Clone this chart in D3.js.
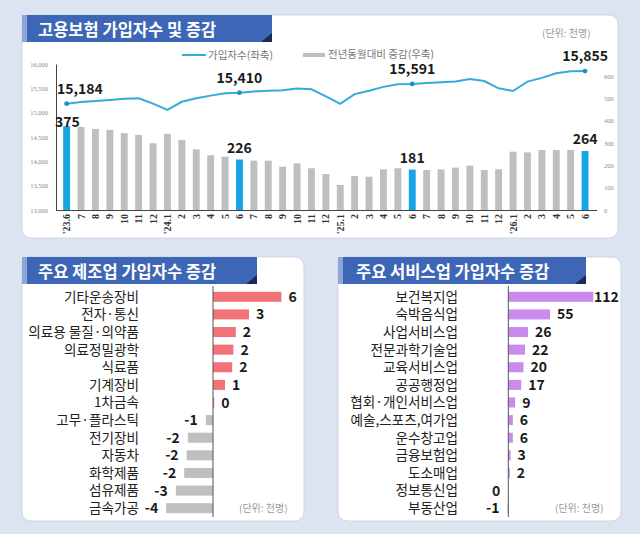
<!DOCTYPE html>
<html>
<head>
<meta charset="utf-8">
<script src="https://cdn.jsdelivr.net/npm/d3@7"></script>
<style>
  html, body { margin: 0; padding: 0; background: #dce4f2; }
  svg { display: block; }
</style>
</head>
<body>
<div id="chart"></div>
<script>
var WIDTH = 640;
var HEIGHT = 534;
var KR = "'Noto Sans CJK KR', 'Noto Sans', sans-serif";

// monthly series, '23.6 .. '26.6
var monthLabels = ["'23.6", "7", "8", "9", "10", "11", "12",
	"'24.1", "2", "3", "4", "5", "6", "7", "8", "9", "10", "11", "12",
	"'25.1", "2", "3", "4", "5", "6", "7", "8", "9", "10", "11", "12",
	"'26.1", "2", "3", "4", "5", "6"];
var subscribers = [15184, 15219, 15240, 15262, 15284, 15296, 15186,
	15057, 15224, 15296, 15350, 15398, 15410, 15437, 15450, 15462, 15496, 15480, 15334,
	15180, 15382, 15452, 15530, 15585, 15591, 15610, 15625, 15640, 15692, 15650, 15500,
	15445, 15638, 15715, 15810, 15850, 15855];
var yoyChange = [375, 372, 363, 359, 344, 336, 299,
	341, 314, 272, 245, 239, 226, 221, 221, 194, 209, 187, 161,
	112, 152, 149, 182, 187, 181, 179, 182, 190, 199, 179, 182,
	261, 258, 269, 269, 269, 264];
var highlighted = [0, 12, 24, 36];
var leftTicks = [13000, 13500, 14000, 14500, 15000, 15500, 16000];
var rightTicks = [0, 100, 200, 300, 400, 500, 600];

var mfgCategories = ["기타운송장비", "전자·통신", "의료용 물질·의약품", "의료정밀광학", "식료품", "기계장비",
	"1차금속", "고무·플라스틱", "전기장비", "자동차", "화학제품", "섬유제품", "금속가공"];
var mfgValues = [5.7, 3.0, 1.9, 1.7, 1.6, 1.0, 0.1, -0.6, -2.1, -2.2, -2.4, -3.1, -3.9];

var svcCategories = ["보건복지업", "숙박음식업", "사업서비스업", "전문과학기술업", "교육서비스업", "공공행정업",
	"협회·개인서비스업", "예술,스포츠,여가업", "운수창고업", "금융보험업", "도소매업", "정보통신업", "부동산업"];
var svcValues = [112, 55, 26, 22, 20, 17, 9, 6, 6, 3, 2, 0, -1];

// plain hyphen for negatives, like the original
var locale = d3.formatLocale({ decimal: ".", thousands: ",", grouping: [3], currency: ["", ""], minus: "-" });
var fmtInt = locale.format(".0f");
var fmtComma = locale.format(",");

var svg = d3.select("#chart").append("svg")
	.attr("width", WIDTH)
	.attr("height", HEIGHT);

svg.append("rect").attr("width", WIDTH).attr("height", HEIGHT).attr("fill", "#dce4f2");

function drawPanel(x, y, w, h, bannerW, title, titleX) {
	svg.append("rect")
		.attr("x", x).attr("y", y).attr("width", w).attr("height", h)
		.attr("rx", 9)
		.attr("fill", "#fff")
		.attr("stroke", "#cdd5e3");
	// square top-left corner under the banner
	svg.append("rect").attr("x", x).attr("y", y).attr("width", 20).attr("height", 20).attr("fill", "#fff");

	svg.append("rect")
		.attr("x", x).attr("y", y).attr("width", bannerW).attr("height", 27)
		.attr("fill", "#3e66b6");
	svg.append("rect")
		.attr("x", x).attr("y", y).attr("width", 5).attr("height", 27)
		.attr("fill", "#8ea6d6");
	svg.append("path")
		.attr("d", `M${x + bannerW - 11},${y + 27} L${x + bannerW},${y + 18} L${x + bannerW},${y + 27} Z`)
		.attr("fill", "#1c2a57");
	svg.append("text")
		.attr("x", x + titleX).attr("y", y + 21)
		.attr("fill", "#fff")
		.style("font-family", KR)
		.style("font-size", "16.5px")
		.style("font-weight", "bold")
		.text(title);
}

function unitNote(x, y) {
	svg.append("text")
		.attr("x", x).attr("y", y)
		.attr("fill", "#9a9a9a")
		.style("font-family", KR)
		.style("font-size", "10px")
		.text("(단위: 천명)");
}

drawPanel(22, 15, 596, 223, 250, "고용보험 가입자수 및 증감", 16);
drawPanel(22, 257, 282, 264, 235, "주요 제조업 가입자수 증감", 16);
drawPanel(338, 257, 283, 264, 248, "주요 서비스업 가입자수 증감", 18);

// ---- top combo chart
var x = d3.scaleBand()
	.domain(d3.range(monthLabels.length))
	.range([55.7, 596])
	.padding(0.52);
var yL = d3.scaleLinear().domain([13000, 16000]).range([210, 64]);
var yR = d3.scaleLinear().domain([0, 600]).range([210, 76]);
var cx = i => x(i) + x.bandwidth() / 2;

var leftAxis = svg.append("g")
	.attr("transform", "translate(56,0)")
	.call(d3.axisLeft(yL).tickValues(leftTicks).tickSize(0).tickPadding(8).tickFormat(fmtComma));
leftAxis.select(".domain").attr("stroke", "#444");
leftAxis.selectAll("text")
	.attr("fill", "#8a8a8a")
	.style("font-family", "'Liberation Serif', serif")
	.style("font-size", "6.5px");

var rightAxis = svg.append("g")
	.attr("transform", "translate(600,0)")
	.call(d3.axisRight(yR).tickValues(rightTicks).tickSize(0).tickPadding(4));
rightAxis.select(".domain").remove();
rightAxis.selectAll("text")
	.attr("fill", "#8a8a8a")
	.style("font-family", "'Liberation Serif', serif")
	.style("font-size", "6.5px");

svg.selectAll(".yoy")
	.data(yoyChange)
	.join("rect")
	.attr("class", "yoy")
	.attr("x", (d, i) => x(i))
	.attr("y", d => yR(d))
	.attr("width", x.bandwidth())
	.attr("height", d => yR(0) - yR(d))
	.attr("fill", (d, i) => highlighted.includes(i) ? "#16a5e3" : "#bfbfbf");

var bottomAxis = svg.append("g")
	.attr("transform", "translate(0,210)")
	.call(d3.axisBottom(x).tickSize(0).tickSizeOuter(0).tickFormat(i => monthLabels[i]));
bottomAxis.select(".domain").attr("stroke", "#444").attr("d", "M56,0.5H597");
bottomAxis.selectAll("text")
	.attr("transform", "rotate(-90)")
	.attr("text-anchor", "end")
	.attr("x", -4)
	.attr("y", 0)
	.attr("dy", "0.35em")
	.attr("fill", "#333")
	.style("font-family", "'Liberation Serif', serif")
	.style("font-weight", "bold")
	.style("font-size", "10px");

svg.append("path")
	.datum(subscribers)
	.attr("fill", "none")
	.attr("stroke", "#35abdc")
	.attr("stroke-width", 2)
	.attr("d", d3.line().x((d, i) => cx(i)).y(d => yL(d)));

svg.selectAll(".dot")
	.data(highlighted)
	.join("circle")
	.attr("class", "dot")
	.attr("cx", i => cx(i))
	.attr("cy", i => yL(subscribers[i]))
	.attr("r", 2.4)
	.attr("fill", "#1f8fc6");

function styled(sel) {
	return sel.attr("fill", "#1a1a1a")
		.style("font-family", KR)
		.style("font-size", "14px")
		.style("font-weight", "bold");
}

highlighted.forEach(function(i, n) {
	styled(svg.append("text"))
		.attr("x", n === 0 ? 57 : cx(i))
		.attr("y", yL(subscribers[i]) - 10)
		.attr("text-anchor", n === 0 ? "start" : "middle")
		.text(fmtComma(subscribers[i]));
	styled(svg.append("text"))
		.attr("x", n === 0 ? 55 : cx(i))
		.attr("y", n === 0 ? yR(yoyChange[i]) + 1 : yR(yoyChange[i]) - 7)
		.attr("text-anchor", n === 0 ? "start" : "middle")
		.text(yoyChange[i]);
});

// legend
svg.append("line").attr("x1", 182).attr("x2", 206).attr("y1", 55).attr("y2", 55)
	.attr("stroke", "#35abdc").attr("stroke-width", 2);
svg.append("text").attr("x", 208).attr("y", 59)
	.attr("fill", "#777").style("font-family", KR).style("font-size", "10.5px")
	.text("가입자수(좌축)");
svg.append("rect").attr("x", 303).attr("y", 53).attr("width", 22).attr("height", 4)
	.attr("fill", "#bfbfbf");
svg.append("text").attr("x", 328).attr("y", 58)
	.attr("fill", "#777").style("font-family", KR).style("font-size", "10.5px")
	.text("전년동월대비 증감(우축)");
unitNote(542, 37);

// ---- horizontal bar panels
function drawBars(cats, vals, xScale, labelRight, posColor, negColor, panelRight) {
	var y = d3.scaleBand()
		.domain(cats)
		.range([288, 517])
		.paddingInner(0.43)
		.paddingOuter(0.215);
	var zero = xScale(0);

	svg.append("g").selectAll("rect")
		.data(vals)
		.join("rect")
		.attr("x", d => Math.min(xScale(d), zero))
		.attr("y", (d, i) => y(cats[i]))
		.attr("width", d => Math.abs(xScale(d) - zero))
		.attr("height", y.bandwidth())
		.attr("fill", d => d > 0 ? posColor : negColor);

	svg.append("line")
		.attr("x1", zero).attr("x2", zero)
		.attr("y1", 286).attr("y2", 517)
		.attr("stroke", "#555");

	svg.append("g").selectAll("text")
		.data(cats)
		.join("text")
		.attr("x", labelRight)
		.attr("y", d => y(d) + y.bandwidth() / 2)
		.attr("dy", "0.36em")
		.attr("text-anchor", "end")
		.attr("fill", "#222")
		.style("font-family", KR)
		.style("font-size", "13.6px")
		.text(d => d);

	// keep the value labels inside the panel
	var vl = svg.append("g").selectAll("text")
		.data(vals)
		.join("text")
		.attr("x", d => d > 0 ? Math.min(xScale(d) + 7, panelRight - 9 * fmtInt(d).length) : xScale(d) - 8)
		.attr("y", (d, i) => y(cats[i]) + y.bandwidth() / 2)
		.attr("dy", "0.36em")
		.attr("text-anchor", d => d > 0 ? "start" : "end")
		.text(d => fmtInt(d));
	styled(vl);
}

var xMfg = d3.scaleLinear().domain([-4, 6]).range([165, 285]);
drawBars(mfgCategories, mfgValues, xMfg, 139, "#f27279", "#bfbfbf", 304);
unitNote(239, 512);

var xSvc = d3.scaleLinear().domain([0, 112]).range([508.3, 593.3]);
drawBars(svcCategories, svcValues, xSvc, 458, "#c98cec", "#bfbfbf", 621);
unitNote(555, 512);
</script>
</body>
</html>
